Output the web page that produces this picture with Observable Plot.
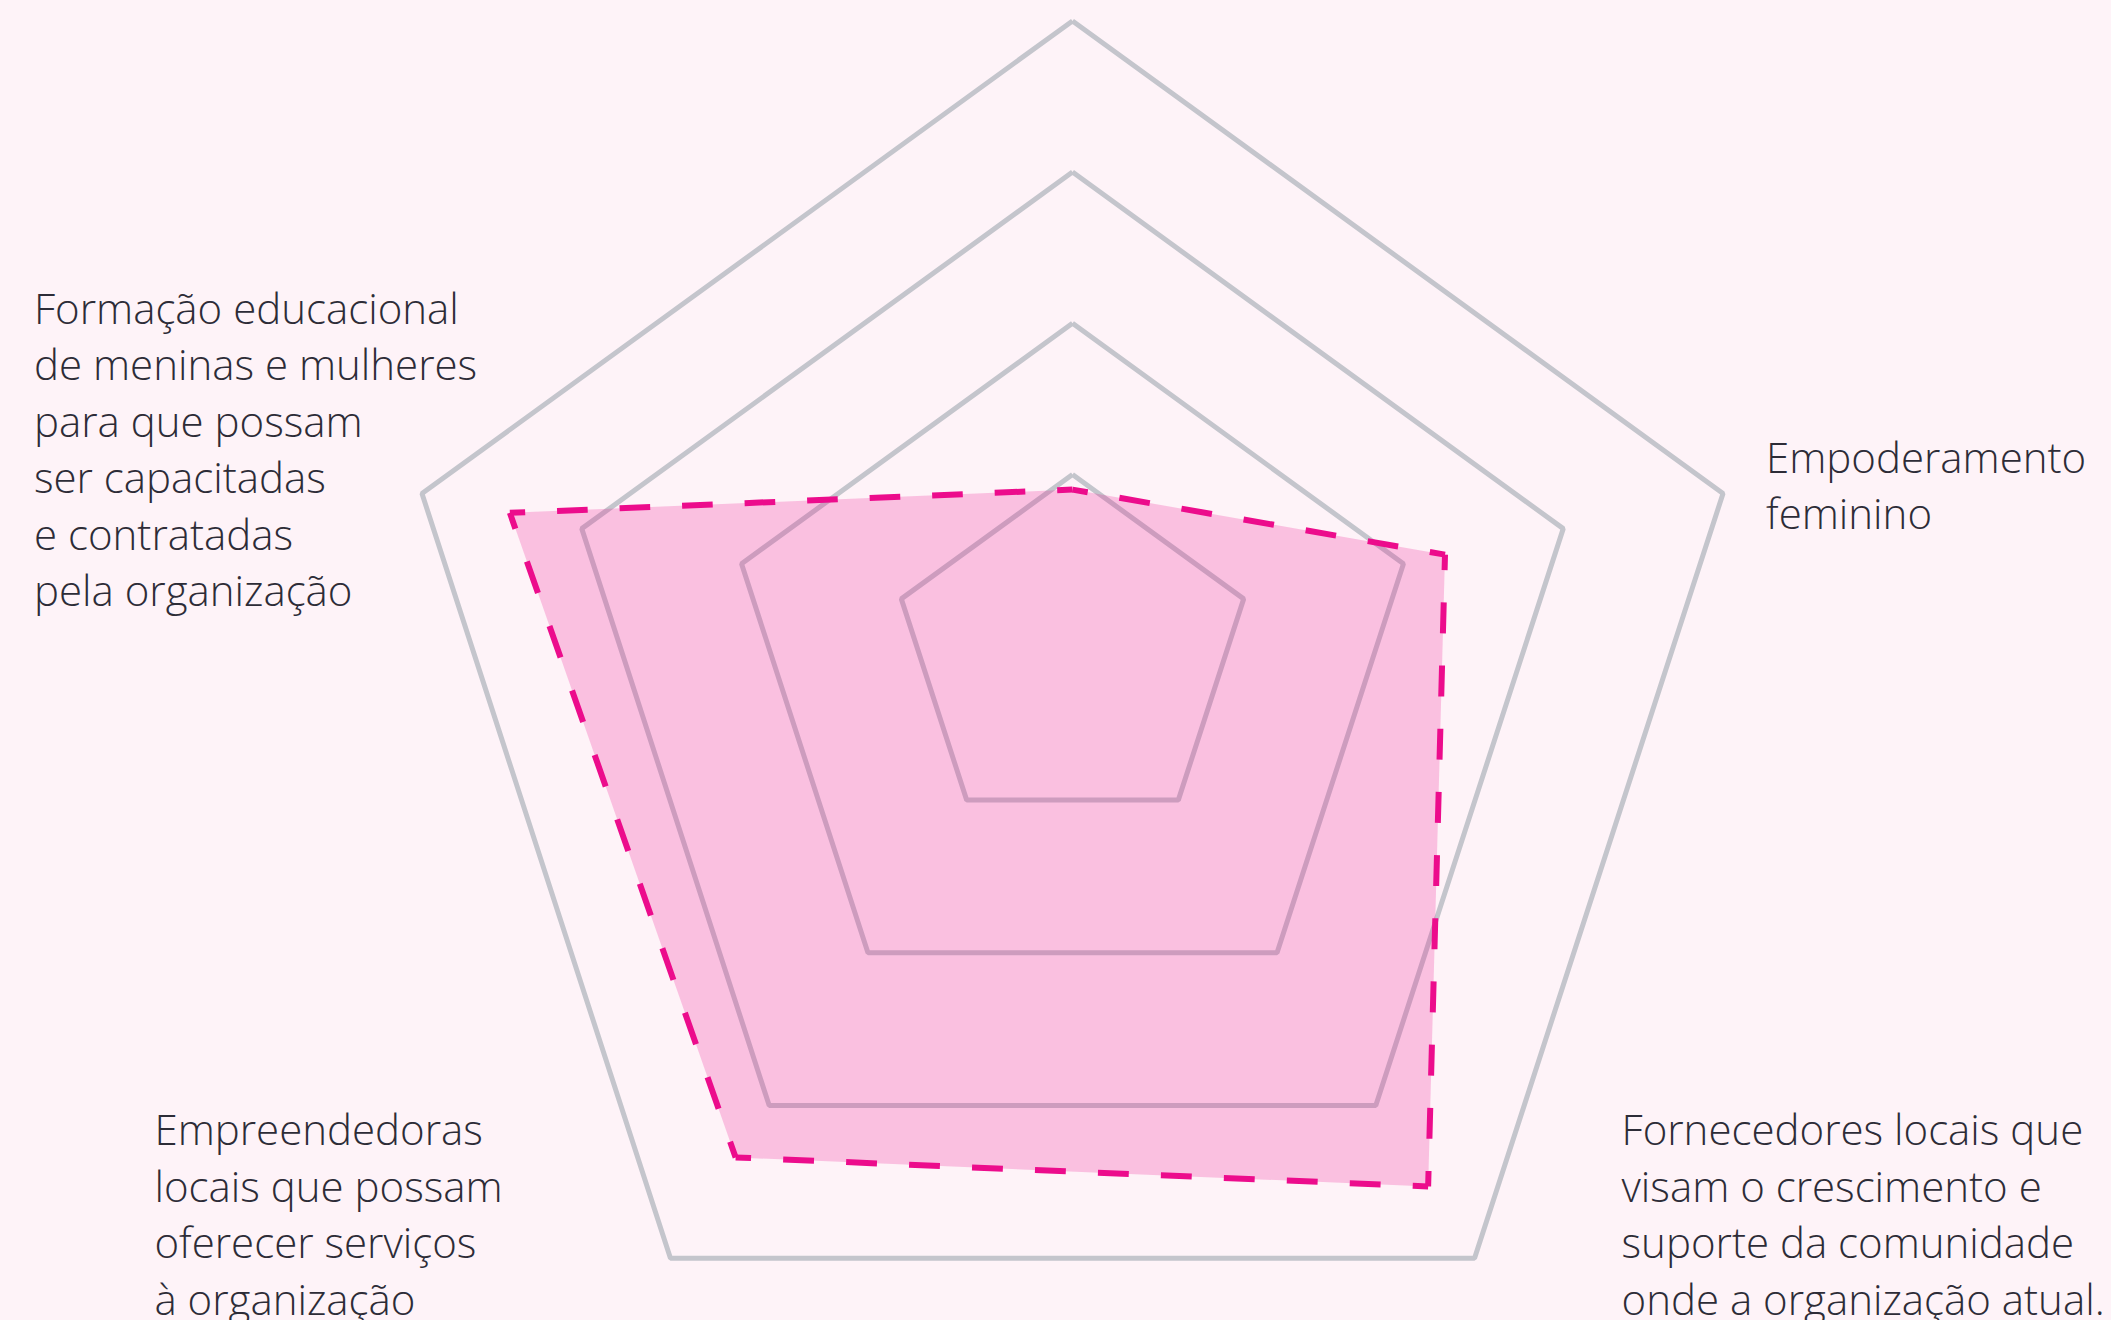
<!DOCTYPE html>
<html>
<head>
<meta charset="utf-8">
<script src="https://cdn.jsdelivr.net/npm/d3@7"></script>
<script src="https://cdn.jsdelivr.net/npm/@observablehq/plot@0.6"></script>
<style>
  html, body { margin: 0; padding: 0; background: #FEF3F8; }
  #chart { width: 2111px; height: 1320px; overflow: hidden; }
  #chart svg { display: block; background: #FEF3F8; }
</style>
</head>
<body>
<div id="chart"></div>
<script>
// ---- Data -------------------------------------------------------------
// Axes, clockwise from the top (the top axis carries no label in the source)
const axisLabels = [
  "",
  "Empoderamento\nfeminino",
  "Fornecedores locais que\nvisam o crescimento e\nsuporte da comunidade\nonde a organização atual.",
  "Empreendedoras\nlocais que possam\noferecer serviços\nà organização",
  "Formação educacional\nde meninas e mulheres\npara que possam\nser capacitadas\ne contratadas\npela organização"
];
// Score on each axis (rings = 1..4)
const seriesValues = [0.90, 2.26, 3.53, 3.34, 3.45];
// Grid ring levels
const ringLevels = [1, 2, 3, 4];

// ---- Geometry ---------------------------------------------------------
const W = 2111, H = 1320;
const CX = 1072, CY = 636;                 // origin of the radial layout (px)
const rScale = d3.scaleLinear().domain([0, 4]).range([12, 684]);
const drop = 0.1;                           // rings sink slightly as they grow
const nAx = axisLabels.length;

function pos(i, v) {
  const a = 2 * Math.PI * (i % nAx) / nAx;
  const r = rScale(v);
  return { x: r * Math.sin(a), y: -r * Math.cos(a) + drop * r };
}

const ringPts = ringLevels.flatMap(l =>
  d3.range(nAx + 1).map(k => ({ level: l, ...pos(k, l) })));

const polyPts = d3.range(nAx + 1).map(k => ({ ...pos(k, seriesValues[k % nAx]) }));

// dashed edges, dashes aligned on corners
const dashMarks = d3.range(nAx).map(i => {
  const p0 = pos(i, seriesValues[i]);
  const p1 = pos(i + 1, seriesValues[(i + 1) % nAx]);
  const len = Math.hypot(p1.x - p0.x, p1.y - p0.y);
  const k = Math.max(1, Math.round(len / 66));
  const per = len / k;
  const d = per * 0.49, g = per - d;
  return Plot.line([p0, p1], {
    x: "x", y: "y",
    stroke: "#EC0C8C", strokeWidth: 6,
    strokeDasharray: `${d},${g}`, strokeDashoffset: d / 2,
    strokeLinecap: "butt", strokeLinejoin: "miter"
  });
});

// label layout (offset of text block top-left from the outer ring vertex)
const labelLayout = [
  { dx: 0, dy: 0 },
  { dx: 43, dy: -61 },
  { dx: 147, dy: -153 },
  { dx: -516, dy: -153 },
  { dx: -388, dy: -210 }
];
const labelPts = axisLabels.map((t, i) => {
  const p = pos(i, ringLevels[ringLevels.length - 1]);
  return { text: t, x: p.x + labelLayout[i].dx, y: p.y + labelLayout[i].dy };
}).filter(d => d.text);

const chart = Plot.plot({
  width: W,
  height: H,
  margin: 0,
  style: { background: "#FEF3F8", overflow: "hidden" },
  x: { domain: [-CX, W - CX], range: [0, W], axis: null },
  y: { domain: [-CY, H - CY], range: [0, H], axis: null },
  marks: [
    Plot.line(ringPts, {
      x: "x", y: "y", z: "level",
      stroke: "#C4C5CC", strokeWidth: 5,
      strokeLinejoin: "miter", strokeLinecap: "butt"
    }),
    Plot.line(polyPts, {
      x: "x", y: "y",
      fill: "#EC0C8C", fillOpacity: 0.22, stroke: "none"
    }),
    ...dashMarks,
    Plot.text(labelPts, {
      x: "x", y: "y", text: "text",
      textAnchor: "start", lineAnchor: "top", lineHeight: 1.345,
      fontSize: 42, fontWeight: 300, fontFamily: "'Open Sans', sans-serif",
      fill: "#2D2C37"
    })
  ]
});
document.getElementById("chart").appendChild(chart);
</script>
</body>
</html>
